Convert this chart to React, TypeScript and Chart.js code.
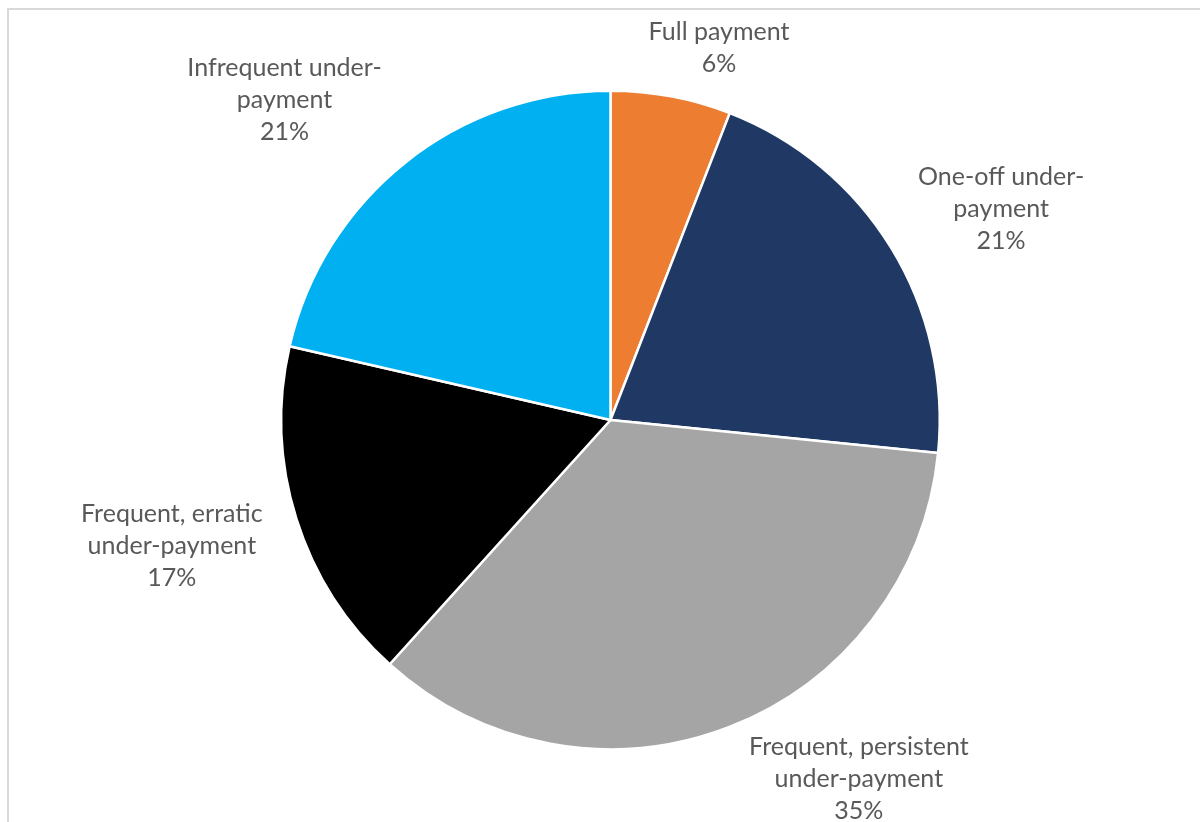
import React, { useEffect, useRef } from "react";
import { Chart, registerables } from "chart.js";

Chart.register(...registerables);

const categoryLines: string[][] = [
  ["Full payment"],
  ["One-off under-", "payment"],
  ["Frequent, persistent", "under-payment"],
  ["Frequent, erratic", "under-payment"],
  ["Infrequent under-", "payment"],
];
const shares: number[] = [5.9, 20.7, 35.1, 16.9, 21.4];
const sliceColors: string[] = ["#ED7D31", "#203864", "#A5A5A5", "#000000", "#00B0F0"];

// label placement relative to slice: radial factor and angle nudge (degrees)
const labelRadiusFactor: number[] = [1.18, 1.35, 1.323, 1.385, 1.39];
const labelAngleNudge: number[] = [5.6, 3.0, -13.7, 1.6, -6.9];

const FONT = "Lato, 'Liberation Sans', sans-serif";
const FONT_SIZE = 25;
const LINE_H = 32;

const outsideLabels = {
  id: "outsideLabels",
  afterDatasetsDraw(chart: any) {
    const ctx = chart.ctx;
    const meta = chart.getDatasetMeta(0);
    const data = chart.data.datasets[0].data as number[];
    const total = data.reduce((a, b) => a + b, 0);
    ctx.save();
    ctx.fillStyle = "#595959";
    ctx.font = `${FONT_SIZE}px ${FONT}`;
    ctx.textAlign = "center";
    ctx.textBaseline = "middle";
    meta.data.forEach((arc: any, i: number) => {
      const p = arc.getProps(["x", "y", "startAngle", "endAngle", "outerRadius"], true);
      const mid = (p.startAngle + p.endAngle) / 2 + (labelAngleNudge[i] * Math.PI) / 180;
      const r = p.outerRadius * labelRadiusFactor[i];
      const cx = p.x + Math.cos(mid) * r;
      const cy = p.y + Math.sin(mid) * r + 1;
      const lines = [...categoryLines[i], Math.round((data[i] / total) * 100) + "%"];
      const startY = cy - ((lines.length - 1) * LINE_H) / 2;
      lines.forEach((ln, k) => ctx.fillText(ln, cx, startY + k * LINE_H));
    });
    ctx.restore();
  },
};

export default function App() {
  const ref = useRef<HTMLCanvasElement | null>(null);
  useEffect(() => {
    document.body.style.margin = "0";
    document.body.style.overflow = "hidden";
    const chart = new Chart(ref.current as HTMLCanvasElement, {
      type: "pie",
      data: {
        labels: categoryLines.map((l) => l.join(" ")),
        datasets: [
          {
            data: shares,
            backgroundColor: sliceColors,
            borderColor: "#FFFFFF",
            borderWidth: 2.5,
          },
        ],
      },
      options: {
        responsive: false,
        animation: false,
        layout: { padding: { top: 89, bottom: 71, left: 280, right: 259 } },
        plugins: {
          legend: { display: false },
          tooltip: { enabled: false },
        },
      },
      plugins: [outsideLabels],
    });
    return () => chart.destroy();
  }, []);
  return (
    <div style={{ position: "relative", width: 1200, height: 822, overflow: "hidden", background: "#fff" }}>
      <div
        style={{
          position: "absolute",
          left: 7,
          top: 8,
          width: 1400,
          height: 1000,
          borderLeft: "2px solid #D9D9D9",
          borderTop: "2px solid #D9D9D9",
        }}
      />
      <canvas ref={ref} width={1200} height={822} style={{ position: "absolute", left: 0, top: 0 }} />
    </div>
  );
}
